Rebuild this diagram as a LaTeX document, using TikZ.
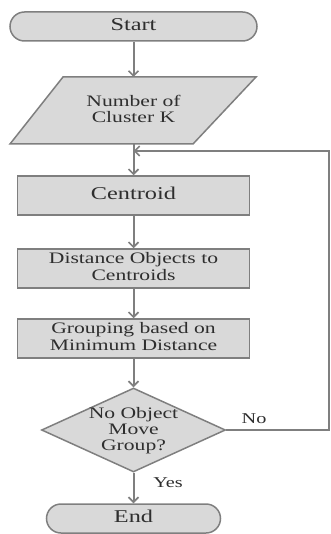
\documentclass[tikz,border=0pt]{standalone}
\usepackage{fontspec}
\setmainfont{Liberation Serif}
\usetikzlibrary{shapes.geometric,arrows.meta}
\definecolor{fillg}{HTML}{D9D9D9}
\definecolor{lineg}{HTML}{7F7F7F}
\definecolor{txtg}{HTML}{2E2E2E}
\newcommand\sxt[1]{\scalebox{1.35}[1]{\begin{tabular}{@{}c@{}}#1\end{tabular}}}
\begin{document}
\begin{tikzpicture}[x=1pt,y=-1pt,
  shapebase/.style={draw=lineg,fill=fillg,line width=1.5pt,inner sep=0pt,text=txtg},
  term/.style={shapebase,rectangle,rounded corners=14.5pt,minimum height=29pt,font=\fontsize{18}{19}\selectfont},
  procbox/.style={shapebase,rectangle,minimum width=232pt,minimum height=39pt,font=\fontsize{16}{16.7}\selectfont},
  bigbox/.style={procbox,font=\fontsize{18}{19}\selectfont},
  decshape/.style={shapebase,diamond,minimum width=184pt,minimum height=84pt},
  txt/.style={inner sep=0pt,text=txtg,font=\fontsize{16}{16}\selectfont},
  lab/.style={inner sep=0pt,text=txtg,font=\fontsize{15}{16}\selectfont},
  conn/.style={draw=lineg,line width=2pt,-{Straight Barb[length=5pt,width=10pt,line width=1.6pt]}},
  plain/.style={draw=lineg,line width=2pt}]
\useasboundingbox (0,0) rectangle (331,534);
% Start
\node[term,minimum width=247pt] (start) at (133.5,26.5) {\sxt{Start}};
% Parallelogram
\draw[shapebase] (10,144) -- (63,77) -- (256,77) -- (193,144) -- cycle;
\node[txt] (num) at (133.5,111) {\sxt{Number of\\Cluster K}};
\coordinate (numtop) at (133.5,77);
\coordinate (numbot) at (133.5,144);
\coordinate (join) at (133.5,151);
% boxes
\node[bigbox] (cen) at (133.5,195.5) {\sxt{Centroid}};
\node[procbox] (dist) at (133.5,268.5) {\sxt{Distance Objects to\\Centroids}};
\node[procbox] (grp) at (133.5,338.5) {\sxt{Grouping based on\\Minimum Distance}};
% decision
\node[decshape] (dec) at (133.5,430) {};
\node[txt] (dectxt) at (133.5,431) {\sxt{No Object\\Move\\Group?}};
% end
\node[term,minimum width=174pt] (end) at (133.5,518.5) {\sxt{End}};
\coordinate (rt) at (329,430);
% connectors
\draw[conn] (start) -- (numtop);
\draw[plain] (numbot) -- (join);
\draw[conn] (join) -- (cen);
\draw[conn] (cen) -- (dist);
\draw[conn] (dist) -- (grp);
\draw[conn] (grp) -- (dec);
\draw[conn] (dec) -- (end);
\draw[conn] (dec.east) -- (rt) |- (join);
% labels
\node[lab] (nolab) at (254,419) {\scalebox{1.35}[1]{No}};
\node[lab] (yeslab) at (168,483) {\scalebox{1.35}[1]{Yes}};
\end{tikzpicture}
\end{document}
